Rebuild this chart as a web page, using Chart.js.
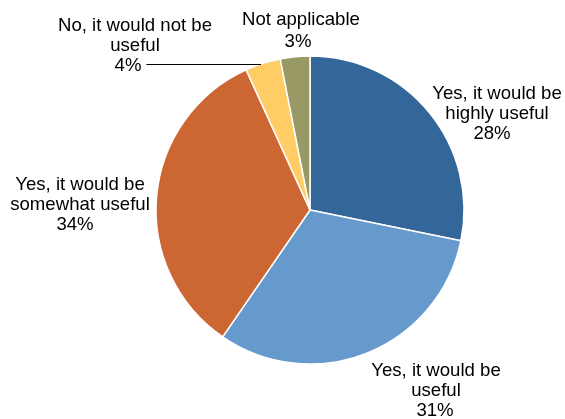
<!DOCTYPE html>
<html>
<head>
<meta charset="utf-8">
<script src="https://cdn.jsdelivr.net/npm/chart.js@4/dist/chart.umd.min.js"></script>
<style>
  html, body { margin: 0; padding: 0; background: #fff; }
  #wrap { width: 565px; height: 419px; position: relative; }
</style>
</head>
<body>
<div id="wrap"><canvas id="c" width="565" height="419"></canvas></div>
<script>
// Data
const categories = [
  ["Yes, it would be", "highly useful"],
  ["Yes, it would be", "useful"],
  ["Yes, it would be", "somewhat useful"],
  ["No, it would not be", "useful"],
  ["Not applicable"]
];
const values = [28.2, 31.4, 33.6, 3.7, 3.1];
const percentLabels = ["28%", "31%", "34%", "4%", "3%"];
const sliceColors = ["#336699", "#6699CC", "#CC6633", "#FFCC66", "#999966"];

// Label layout (offsets relative to pie centre, px) — presentation only
const labelLayout = [
  { dx: 187,  dy: -111, lh: 20, pctShift: -5 },
  { dx: 126,  dy: 166,  lh: 20, pctShift: -1 },
  { dx: -230, dy: -20,  lh: 20, pctShift: -5 },
  { dx: -175, dy: -179, lh: 20, pctShift: -7, leader: true },
  { dx: -9,   dy: -185, lh: 22, pctShift: -3 }
];

const FONT = '18.6px "Liberation Sans", Arial, sans-serif';

const labelPlugin = {
  id: 'pieLabels',
  afterDatasetsDraw(chart) {
    const ctx = chart.ctx;
    const meta = chart.getDatasetMeta(0);
    ctx.save();
    ctx.font = FONT;
    ctx.fillStyle = '#000';
    ctx.textAlign = 'center';
    ctx.textBaseline = 'alphabetic';
    meta.data.forEach((arc, i) => {
      const lay = labelLayout[i];
      const cx = arc.x, cy = arc.y, r = arc.outerRadius;
      const lines = categories[i].concat([percentLabels[i]]);
      const x0 = cx + lay.dx;
      const y0 = cy + lay.dy;
      lines.forEach((ln, k) => {
        const isPct = k === lines.length - 1;
        ctx.fillText(ln, x0 + (isPct ? lay.pctShift : 0), y0 + k * lay.lh);
      });
      if (lay.leader) {
        const pctY = y0 + (lines.length - 1) * lay.lh - 7;
        const pctW = ctx.measureText(lines[lines.length - 1]).width;
        const startX = x0 + lay.pctShift + pctW / 2 + 5;
        const dyc = pctY - cy;
        const endX = cx - Math.sqrt(Math.max(r * r - dyc * dyc, 0));
        ctx.beginPath();
        ctx.strokeStyle = '#000';
        ctx.lineWidth = 1;
        ctx.moveTo(startX, Math.round(pctY) + 0.5);
        ctx.lineTo(endX, Math.round(pctY) + 0.5);
        ctx.stroke();
      }
    });
    ctx.restore();
  }
};

new Chart(document.getElementById('c'), {
  type: 'pie',
  data: {
    labels: categories.map(c => c.join(' ')),
    datasets: [{
      data: values,
      backgroundColor: sliceColors,
      borderColor: '#ffffff',
      borderWidth: 1.5,
      radius: 154
    }]
  },
  options: {
    responsive: false,
    animation: false,
    layout: { padding: { left: 156, right: 101, top: 56, bottom: 55 } },
    plugins: {
      legend: { display: false },
      tooltip: { enabled: false }
    }
  },
  plugins: [labelPlugin]
});
</script>
</body>
</html>
